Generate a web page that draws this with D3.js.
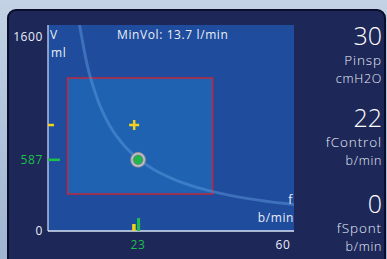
<!DOCTYPE html>
<html>
<head>
<meta charset="utf-8">
<script src="https://cdn.jsdelivr.net/npm/d3@7"></script>
<style>
  body { margin: 0; background: #a9bdd6; }
  svg { display: block; font-family: 'Open Sans', sans-serif; }
</style>
</head>
<body>
<svg id="chart"></svg>
<script>
// volume (ml) against rate (b/min)
const yTicks = [0, 1600];
const xTicks = [60];
const minVol = 13.7;
// curve
const curveF = [8, 10, 13, 16, 20, 23, 27, 32, 38, 45, 52, 60, 64];
const curveV = [1710, 1370, 1055, 855, 685, 596, 507, 428, 360, 304, 263, 228, 214];
// target box and target point
const boxF = [5, 42];
const boxV = [305, 1262];
const targetF = 22;
const targetV = 874;
// actual point
const actualF = 23;
const actualV = 587;
// side readouts
const sideValues = ['30', '22', '0'];
const sideNames = ['Pinsp', 'fControl', 'fSpont'];
const sideUnits = ['cmH2O', 'b/min', 'b/min'];

draw_chart();

function draw_chart() {
    const svg = d3.select('#chart')
        .attr('width', 387)
        .attr('height', 259);

    /* background and panel */
    const grad = svg.append('defs').append('linearGradient')
        .attr('id', 'bg').attr('x1', 0).attr('y1', 0).attr('x2', 0).attr('y2', 1);
    grad.append('stop').attr('offset', '0%').attr('stop-color', '#c3d2e4');
    grad.append('stop').attr('offset', '100%').attr('stop-color', '#9fb4d0');
    svg.append('rect').attr('width', 387).attr('height', 259).attr('fill', 'url(#bg)');

    svg.append('rect')
        .attr('x', 8).attr('y', 10).attr('width', 377).attr('height', 262)
        .attr('rx', 8)
        .attr('fill', '#1d2758')
        .attr('stroke', '#0a0e2c').attr('stroke-width', 2);

    const x = d3.scaleLinear().domain([0, 60]).range([48, 283]);
    const y = d3.scaleLinear().domain([0, 1600]).range([231, 37]);
    const xEnd = x.invert(294);
    const yTop = y.invert(25);

    /* plot area */
    svg.append('rect')
        .attr('x', x(0)).attr('y', y(yTop))
        .attr('width', x(xEnd) - x(0)).attr('height', y(0) - y(yTop))
        .attr('fill', '#1f4c9c');

    svg.append('clipPath').attr('id', 'clip')
        .append('rect')
        .attr('x', x(0)).attr('y', y(yTop))
        .attr('width', x(xEnd) - x(0)).attr('height', y(0) - y(yTop));

    /* target box */
    svg.append('rect')
        .attr('x', x(boxF[0])).attr('y', y(boxV[1]))
        .attr('width', x(boxF[1]) - x(boxF[0]))
        .attr('height', y(boxV[0]) - y(boxV[1]))
        .attr('fill', '#1f62b2')
        .attr('stroke', '#c0283c').attr('stroke-width', 1.5);

    /* min vol curve */
    const pts = curveF.map((f, i) => [f, curveV[i]]);
    const line = d3.line()
        .x(d => x(d[0]))
        .y(d => y(d[1]))
        .curve(d3.curveMonotoneX);
    svg.append('path')
        .datum(pts)
        .attr('clip-path', 'url(#clip)')
        .attr('d', line)
        .attr('fill', 'none')
        .attr('stroke', '#5c96dc')
        .attr('stroke-opacity', 0.5)
        .attr('stroke-width', 3);

    /* axes */
    svg.append('line')
        .attr('x1', x(0)).attr('x2', x(0))
        .attr('y1', y(yTop)).attr('y2', y(0))
        .attr('stroke', '#aebfe0').attr('stroke-width', 1.5);
    svg.append('line')
        .attr('x1', x(0)).attr('x2', x(xEnd))
        .attr('y1', y(0)).attr('y2', y(0))
        .attr('stroke', '#d8e4f4').attr('stroke-width', 1.5);

    const txt = (sel) => sel
        .attr('font-size', 12)
        .attr('letter-spacing', 0.6)
        .attr('fill', '#e8eef8');

    svg.selectAll('.ytick')
        .data(yTicks)
        .enter().append('text')
        .attr('x', 43).attr('y', d => y(d) + 4)
        .attr('text-anchor', 'end')
        .call(txt)
        .text(d => d);

    svg.selectAll('.xtick')
        .data(xTicks)
        .enter().append('text')
        .attr('x', d => x(d)).attr('y', 249)
        .attr('text-anchor', 'middle')
        .call(txt)
        .text(d => d);

    /* axis labels */
    svg.append('text').attr('x', 50).attr('y', 39).call(txt).text('V');
    svg.append('text').attr('x', 51).attr('y', 57).call(txt).text('ml');
    svg.append('text').attr('x', 293).attr('y', 204)
        .attr('text-anchor', 'end').call(txt).text('f');
    svg.append('text').attr('x', 294).attr('y', 222)
        .attr('text-anchor', 'end').call(txt).text('b/min');
    svg.append('text').attr('x', 117).attr('y', 39)
        .call(txt)
        .text('MinVol: ' + minVol + ' l/min');

    /* target markers (yellow) */
    svg.append('line')
        .attr('x1', x(0)).attr('x2', x(0) + 6)
        .attr('y1', y(targetV)).attr('y2', y(targetV))
        .attr('stroke', '#f2d21c').attr('stroke-width', 2.5);
    svg.append('rect')
        .attr('x', x(targetF) - 2).attr('y', y(0) - 7)
        .attr('width', 3.5).attr('height', 7)
        .attr('fill', '#f2d21c');
    svg.append('path')
        .attr('d', 'M' + (x(targetF) - 5) + ',' + y(targetV) + 'h10M' + x(targetF) + ',' + (y(targetV) - 5) + 'v10')
        .attr('stroke', '#f2d21c').attr('stroke-width', 2.5);

    /* actual markers (green) */
    svg.append('line')
        .attr('x1', x(0)).attr('x2', x(0) + 12)
        .attr('y1', y(actualV)).attr('y2', y(actualV))
        .attr('stroke', '#1fbf4a').attr('stroke-width', 2.5);
    svg.append('rect')
        .attr('x', x(actualF) - 1).attr('y', y(0) - 13)
        .attr('width', 3).attr('height', 13)
        .attr('fill', '#1fbf4a');
    svg.append('text')
        .attr('x', 43).attr('y', y(actualV) + 4)
        .attr('text-anchor', 'end')
        .call(txt).attr('fill', '#1fbf4a')
        .text(actualV);
    svg.append('text')
        .attr('x', x(actualF)).attr('y', 249)
        .attr('text-anchor', 'middle')
        .call(txt).attr('fill', '#1fbf4a')
        .text(actualF);

    const ring = svg.append('radialGradient').attr('id', 'ring');
    ring.append('stop').attr('offset', '50%').attr('stop-color', '#5a6478');
    ring.append('stop').attr('offset', '75%').attr('stop-color', '#c8ccd4');
    ring.append('stop').attr('offset', '100%').attr('stop-color', '#6c7486');
    svg.append('circle')
        .attr('cx', x(actualF)).attr('cy', y(actualV)).attr('r', 8)
        .attr('fill', 'url(#ring)');
    svg.append('circle')
        .attr('cx', x(actualF)).attr('cy', y(actualV)).attr('r', 4.5)
        .attr('fill', '#22b54a');

    /* side readouts */
    const rowY = [45, 127, 213];
    const side = svg.selectAll('.side')
        .data(sideValues)
        .enter().append('g')
        .attr('transform', (d, i) => 'translate(382,' + rowY[i] + ')');
    side.append('text')
        .attr('text-anchor', 'end')
        .attr('font-size', 25).attr('font-weight', 300)
        .attr('fill', '#ffffff')
        .text(d => d);
    side.append('text')
        .attr('y', 20)
        .attr('text-anchor', 'end')
        .attr('font-size', 13.5).attr('font-weight', 300)
        .attr('letter-spacing', 0.9)
        .attr('fill', '#e8eef8')
        .text((d, i) => sideNames[i]);
    side.append('text')
        .attr('y', 38)
        .attr('text-anchor', 'end')
        .attr('font-size', 12.5).attr('font-weight', 300)
        .attr('letter-spacing', 0.7)
        .attr('fill', '#e8eef8')
        .text((d, i) => sideUnits[i]);
}
</script>
</body>
</html>
